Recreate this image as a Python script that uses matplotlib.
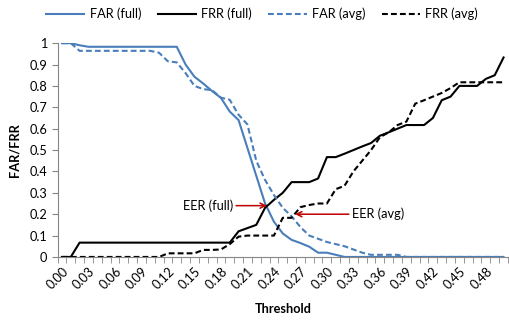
import matplotlib.pyplot as plt
import numpy as np

plt.rcParams['font.family'] = ['Lato', 'DejaVu Sans']

thresholds = ['%.2f' % (i / 100) for i in range(51)]

far_full = [1.0, 1.0, 0.99, 0.983, 0.983, 0.983, 0.983, 0.983, 0.983, 0.983,
            0.983, 0.983, 0.983, 0.983, 0.90, 0.843, 0.811, 0.776, 0.744, 0.68,
            0.64, 0.51, 0.38, 0.25, 0.165, 0.11, 0.08, 0.065, 0.048, 0.02,
            0.02, 0.01, 0, 0, 0, 0, 0, 0, 0, 0,
            0, 0, 0, 0, 0, 0, 0, 0, 0, 0, 0]
frr_full = [0, 0, 0.067, 0.067, 0.067, 0.067, 0.067, 0.067, 0.067, 0.067,
            0.067, 0.067, 0.067, 0.067, 0.067, 0.067, 0.067, 0.067, 0.067, 0.067,
            0.12, 0.135, 0.15, 0.23, 0.267, 0.30, 0.35, 0.35, 0.35, 0.367,
            0.467, 0.467, 0.483, 0.50, 0.517, 0.533, 0.567, 0.583, 0.60, 0.617,
            0.617, 0.617, 0.65, 0.733, 0.75, 0.80, 0.80, 0.80, 0.833, 0.85, 0.933]
far_avg = [1.0, 1.0, 0.964, 0.964, 0.964, 0.964, 0.964, 0.964, 0.964, 0.964,
           0.964, 0.955, 0.915, 0.91, 0.86, 0.80, 0.785, 0.78, 0.745, 0.735,
           0.665, 0.62, 0.45, 0.36, 0.29, 0.23, 0.19, 0.14, 0.10, 0.085,
           0.07, 0.06, 0.05, 0.035, 0.02, 0.01, 0.01, 0.01, 0.01, 0,
           0, 0, 0, 0, 0, 0, 0, 0, 0, 0, 0]
frr_avg = [0, 0, 0, 0, 0, 0, 0, 0, 0, 0,
           0, 0, 0.017, 0.017, 0.017, 0.017, 0.033, 0.033, 0.035, 0.06,
           0.095, 0.10, 0.10, 0.10, 0.10, 0.183, 0.183, 0.233, 0.243, 0.25,
           0.25, 0.317, 0.333, 0.40, 0.45, 0.50, 0.56, 0.583, 0.617, 0.633,
           0.717, 0.733, 0.75, 0.767, 0.79, 0.817, 0.817, 0.817, 0.817, 0.817, 0.817]

blue = '#4A7EBB'
x = np.arange(len(thresholds))
fs = 9.2

fig = plt.figure(figsize=(5.09, 3.22), dpi=100)
ax = fig.add_axes([0.113, 0.202, 0.885, 0.664])

ax.plot(x, far_full, color=blue, lw=1.5, label='FAR (full)')
ax.plot(x, frr_full, color='black', lw=1.5, label='FRR (full)')
ax.plot(x, far_avg, color=blue, lw=1.5, ls=(0, (2.8, 1.5)), label='FAR (avg)')
ax.plot(x, frr_avg, color='black', lw=1.5, ls=(0, (2.8, 1.5)), label='FRR (avg)')

red = '#C00000'
ax.annotate('EER (full)', xy=(23.2, 0.24), xytext=(19.4, 0.24),
            ha='right', va='center', fontsize=fs,
            arrowprops=dict(arrowstyle='->', color=red, lw=1.1, shrinkA=0, shrinkB=0))
ax.annotate('EER (avg)', xy=(26.4, 0.2), xytext=(32.8, 0.2),
            ha='left', va='center', fontsize=fs,
            arrowprops=dict(arrowstyle='->', color=red, lw=1.1, shrinkA=0, shrinkB=0))

ax.set_xlim(-0.5, len(x) - 0.5)
ax.set_ylim(0, 1)
ax.set_yticks(np.arange(0, 1.01, 0.1))
ax.set_yticklabels(['0', '0.1', '0.2', '0.3', '0.4', '0.5', '0.6', '0.7', '0.8', '0.9', '1'])
ax.set_xticks(x[::3])
ax.set_xticklabels(thresholds[::3], rotation=45, ha='right', va='top',
                   rotation_mode='anchor')
ax.set_xticks(np.arange(-0.5, len(x), 1), minor=True)
ax.tick_params(axis='x', which='major', length=0, pad=6, labelsize=fs)
ax.tick_params(axis='x', which='minor', length=4, color='#868686')
ax.tick_params(axis='y', length=4, color='#868686', labelsize=fs)

for s in ['top', 'right']:
    ax.spines[s].set_visible(False)
for s in ['left', 'bottom']:
    ax.spines[s].set_color('#868686')

ax.set_xlabel('Threshold', fontsize=fs, fontweight='bold', labelpad=8)
ax.set_ylabel('FAR/FRR', fontsize=fs, fontweight='bold', labelpad=6)

fig.legend(loc='center', bbox_to_anchor=(0.515, 0.957), ncol=4, frameon=False,
           fontsize=fs, handlelength=3.0, handletextpad=0.4, columnspacing=1.3)

fig.savefig('out.png', dpi=100)
